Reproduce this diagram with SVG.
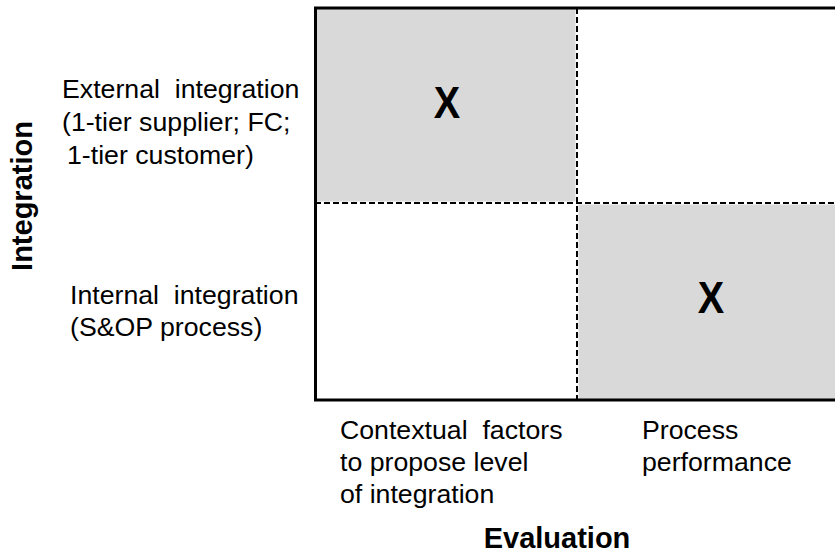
<svg xmlns="http://www.w3.org/2000/svg" width="835" height="554" viewBox="0 0 835 554">
<style>
.t{font-family:"Liberation Sans",Arial,sans-serif;font-size:26.7px;fill:#000}
.b{font-family:"Liberation Sans",Arial,sans-serif;font-size:29px;font-weight:bold;fill:#000}
.x{font-family:"Liberation Sans",Arial,sans-serif;font-size:44px;font-weight:bold;fill:#000;text-anchor:middle}
.gray{fill:#d9d9d9}
.dash{stroke:#000;stroke-width:2;stroke-dasharray:6 3;fill:none}
.under{stroke:#fff;stroke-width:3;fill:none}
.border{stroke:#000;stroke-width:3;fill:none}
</style>
<rect width="835" height="554" fill="#fff"/>
<g id="cell-top-left">
<rect class="gray" x="315" y="8" width="262" height="195"/>
<text class="x" transform="translate(447 118) scale(0.9 1)">X</text>
</g>
<g id="cell-bottom-right">
<rect class="gray" x="577" y="203" width="258" height="197"/>
<text class="x" transform="translate(711 313) scale(0.9 1)">X</text>
</g>
<g id="connectors">
<line class="under" x1="577" y1="8" x2="577" y2="400"/>
<line class="under" x1="315" y1="203" x2="835" y2="203"/>
<line class="dash" x1="577" y1="8" x2="577" y2="400"/>
<line class="dash" x1="315" y1="203" x2="835" y2="203"/>
<path class="border" d="M835 8 H315.5 V400 H835"/>
</g>
<g id="row-labels">
<text class="t" x="62" y="98" xml:space="preserve">External  integration</text>
<text class="t" x="62" y="131">(1-tier supplier; FC;</text>
<text class="t" x="67" y="164">1-tier customer)</text>
<text class="t" x="70" y="304" xml:space="preserve">Internal  integration</text>
<text class="t" x="70" y="336">(S&amp;OP process)</text>
</g>
<g id="col-labels">
<text class="t" x="340" y="439" xml:space="preserve">Contextual  factors</text>
<text class="t" x="340" y="471">to propose level</text>
<text class="t" x="340" y="503">of integration</text>
<text class="t" x="642" y="439">Process</text>
<text class="t" x="642" y="471">performance</text>
</g>
<g id="axis-labels">
<text class="b" x="557" y="548" text-anchor="middle">Evaluation</text>
<text class="b" transform="translate(32 196) rotate(-90)" text-anchor="middle">Integration</text>
</g>
</svg>
